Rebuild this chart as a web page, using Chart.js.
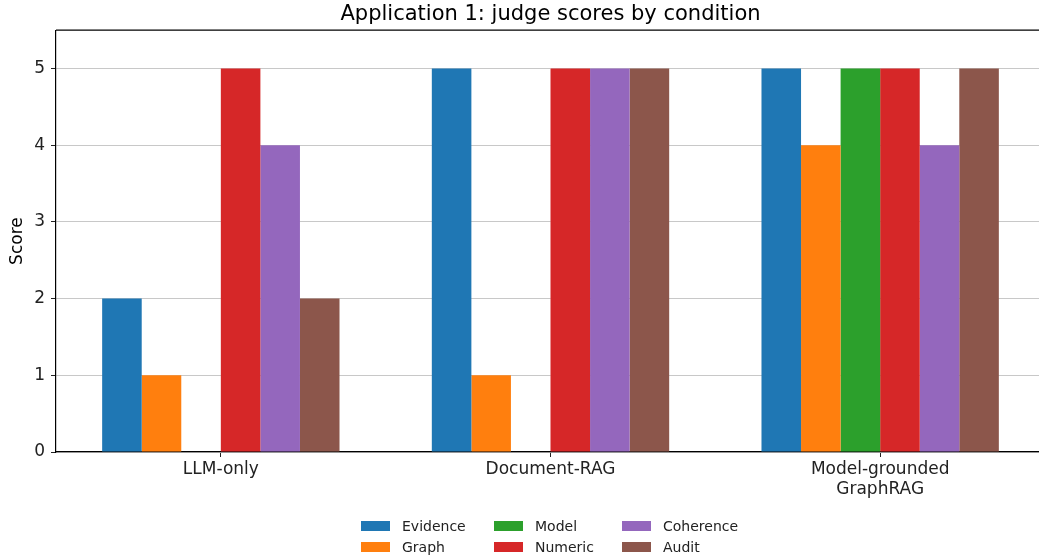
<!DOCTYPE html>
<html>
<head>
<meta charset="utf-8">
<script src="https://cdn.jsdelivr.net/npm/chart.js@4/dist/chart.umd.min.js"></script>
<style>
  html,body{margin:0;padding:0;background:#fff;overflow:hidden;}
  #wrap{position:relative;width:1039px;height:560px;overflow:hidden;font-family:'DejaVu Sans',sans-serif;}
  #c{position:absolute;left:0;top:0;}
  #legend{position:absolute;left:361px;top:515px;display:grid;grid-template-columns:133px 128px 120px;grid-auto-flow:column;grid-template-rows:21px 21px;font-size:14px;color:#222;}
  .item{display:flex;align-items:center;}
  .sw{width:29px;height:10px;margin-right:12px;flex-shrink:0;}
</style>
</head>
<body>
<div id="wrap">
  <canvas id="c" width="1045" height="560"></canvas>
  <div id="legend"></div>
</div>
<script>
const conditions = ['LLM-only', 'Document-RAG', ['Model-grounded', 'GraphRAG']];
const criteria = ['Evidence', 'Graph', 'Model', 'Numeric', 'Coherence', 'Audit'];
const colors = ['#1f77b4', '#ff7f0e', '#2ca02c', '#d62728', '#9467bd', '#8c564b'];
const evidence  = [2, 5, 5];
const graph     = [1, 1, 4];
const model     = [0, 0, 5];
const numeric   = [5, 5, 5];
const coherence = [4, 5, 4];
const audit     = [2, 5, 5];
const series = [evidence, graph, model, numeric, coherence, audit];
const yTicks = [0, 1, 2, 3, 4, 5];

const font = {family: "'DejaVu Sans', sans-serif", size: 17};

// top spine like matplotlib
const topSpine = {
  id: 'topSpine',
  afterDraw(chart) {
    const {ctx, chartArea: a} = chart;
    ctx.save();
    ctx.strokeStyle = '#000';
    ctx.lineWidth = 1.2;
    ctx.beginPath();
    ctx.moveTo(a.left, a.top);
    ctx.lineTo(a.right + 2, a.top);
    ctx.stroke();
    ctx.restore();
  }
};

new Chart(document.getElementById('c'), {
  type: 'bar',
  data: {
    labels: conditions,
    datasets: criteria.map((name, i) => ({
      label: name,
      data: series[i],
      backgroundColor: colors[i],
      borderWidth: 0,
      categoryPercentage: 0.72,
      barPercentage: 1.0
    }))
  },
  options: {
    responsive: false,
    animation: false,
    layout: {padding: {left: 0, right: 0, top: 0, bottom: 0}},
    plugins: {
      legend: {display: false},
      tooltip: {enabled: false},
      title: {
        display: true,
        text: 'Application 1: judge scores by condition',
        color: '#000',
        font: {family: "'DejaVu Sans', sans-serif", size: 21, weight: 'normal'},
        padding: {top: 2, bottom: 3},
        align: 'center',
        fullSize: false   // centre over the plot area, like matplotlib
      }
    },
    scales: {
      x: {
        grid: {display: true, drawOnChartArea: false, offset: false, tickLength: 5, tickColor: '#222', lineWidth: 1},
        border: {color: '#000', width: 1.2},
        ticks: {color: '#222', font: font, padding: 2},
        afterFit(s) { s.height = 108; }
      },
      y: {
        min: 0,
        max: 5.5,
        grid: {color: '#c8c8c8', lineWidth: 1, tickLength: 5, tickColor: '#222'},
        border: {color: '#000', width: 1.2},
        ticks: {color: '#222', font: font, stepSize: 1, padding: 6},
        afterBuildTicks(s) { s.ticks = yTicks.map(v => ({value: v})); },
        title: {display: true, text: 'Score', color: '#000', font: font, padding: {top: 7, bottom: 0}},
        afterFit(s) { s.width = 56; }
      }
    }
  },
  plugins: [topSpine]
});

document.getElementById('legend').innerHTML = criteria.map((name, i) =>
  `<div class="item"><span class="sw" style="background:${colors[i]}"></span>${name}</div>`
).join('');
</script>
</body>
</html>
